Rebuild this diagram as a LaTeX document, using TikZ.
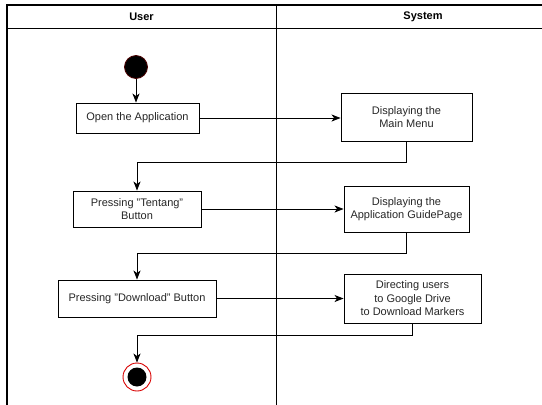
\documentclass[tikz,border=0pt]{standalone}
\usepackage{fontspec}
\setmainfont{Liberation Sans}
\usetikzlibrary{arrows.meta}
\begin{document}
\begin{tikzpicture}[x=1pt,y=-1pt,
  lane/.style={line width=1.3pt,draw=black},
  actbox/.style={draw=black,line width=0.9pt,align=center,inner sep=0pt,font=\fontsize{11}{13.5}\selectfont,text=black!85},
  arr/.style={line width=0.9pt,-{Stealth[length=9pt,width=7pt,inset=2.5pt]}},
  hdr/.style={font=\fontsize{11}{13}\selectfont\bfseries,inner sep=0pt}
]
\useasboundingbox (0,0) rectangle (542,405);
% swimlane frame
\coordinate (tl) at (7,5);
\coordinate (tr) at (542,5);
\coordinate (hl) at (7,28);
\coordinate (hr) at (542,28);
\coordinate (bl) at (7,405);
\coordinate (dt) at (276,5);
\coordinate (db) at (276,405);
\draw[lane] (tr) -- (tl) -- (bl);
\draw[line width=1pt] (hl) -- (hr);
\draw[line width=1pt] (dt) -- (db);
\node[hdr] (uh) at (141.5,16.5) {User};
\node[hdr] (sh) at (423,16.5) {System};
% nodes
\node[circle,fill=black,draw=red!30!black,line width=0.8pt,minimum size=23pt,inner sep=0pt] (start) at (136,67) {};
\node[actbox,minimum width=123pt,minimum height=30pt] (open) at (137.5,118) {Open the Application};
\node[actbox,minimum width=131pt,minimum height=48pt] (menu) at (406.5,117) {Displaying the\\Main Menu};
\node[actbox,minimum width=128pt,minimum height=36pt] (tentang) at (137,209) {Pressing "Tentang"\\Button};
\node[actbox,minimum width=125pt,minimum height=46pt] (guide) at (406.5,209) {Displaying the\\Application GuidePage};
\node[actbox,minimum width=158pt,minimum height=37pt] (download) at (137,298.5) {Pressing "Download" Button};
\node[actbox,minimum width=137pt,minimum height=49pt] (direct) at (412.5,298.5) {Directing users\\to Google Drive\\to Download Markers};
\node[circle,draw=red!85!black,line width=0.9pt,fill=white,minimum size=28pt,inner sep=0pt] (finish) at (137,377) {};
\node[circle,fill=black,minimum size=19pt,inner sep=0pt] (finishdot) at (finish.center) {};
% connectors
\draw[arr] (start) -- (start |- open.north);
\draw[arr] (open.east) -- (open.east -| menu.west);
\draw[arr] (menu.south) -- ++(0,21) -| (tentang.north);
\draw[arr] (tentang.east) -- (tentang.east -| guide.west);
\draw[arr] (guide.south) -- ++(0,21) -| (download.north);
\draw[arr] (download.east) -- (download.east -| direct.west);
\draw[arr] (direct.south) -- ++(0,12) -| (finish.north);
\end{tikzpicture}
\end{document}
